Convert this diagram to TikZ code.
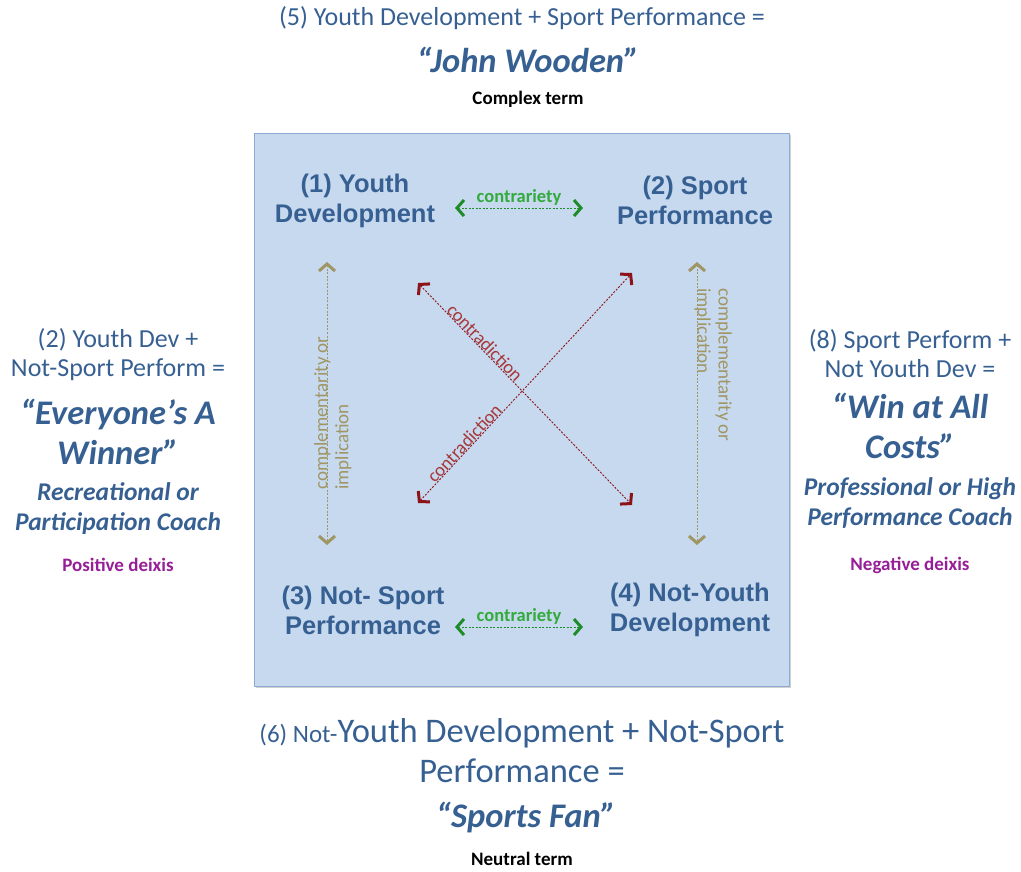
\documentclass[tikz,border=0pt]{standalone}
\usepackage{fontspec}
\setmainfont{Carlito}
\newfontfamily\arialf{Liberation Sans}
\usetikzlibrary{arrows.meta,shadows}
\definecolor{txtblue}{RGB}{55,96,146}
\definecolor{boxfill}{RGB}{199,217,239}
\definecolor{boxline}{RGB}{140,170,210}
\definecolor{cgreen}{RGB}{30,140,40}
\definecolor{lgreen}{RGB}{50,170,60}
\definecolor{cred}{RGB}{140,20,25}
\definecolor{lred}{RGB}{165,55,55}
\definecolor{olive}{RGB}{160,150,100}
\definecolor{deixis}{RGB}{150,30,150}
\begin{document}
\begin{tikzpicture}[x=1pt,y=-1pt,
 term/.style={font=\arialf\bfseries\fontsize{25.5}{30}\selectfont, text=txtblue, align=center, inner sep=0},
 plain/.style={text=txtblue, align=center, inner sep=0, font=\fontsize{26}{29}\selectfont},
 big/.style={text=txtblue, align=center, inner sep=0, font=\bfseries\itshape\fontsize{34.5}{40}\selectfont},
 coach/.style={text=txtblue, align=center, inner sep=0, font=\bfseries\itshape\fontsize{25.5}{30}\selectfont},
 small/.style={align=center, inner sep=0, font=\bfseries\fontsize{19}{22}\selectfont},
 lbl/.style={inner sep=1pt, font=\bfseries\fontsize{18.5}{20}\selectfont},
 barb/.style={>={Straight Barb[length=7pt,width=16pt,line width=3pt]}, <->},
 contr/.style={draw=cgreen, dash pattern=on 2pt off 1.5pt, line width=0.9pt, barb},
 compl/.style={draw=olive, dash pattern=on 2pt off 1.5pt, line width=0.9pt, barb},
 contra/.style={draw=cred, dash pattern=on 2pt off 1.5pt, line width=0.9pt, barb},
 vlbl/.style={text=olive, align=left, inner sep=0, font=\fontsize{19}{21}\selectfont},
]
\useasboundingbox (0,0) rectangle (1021,871);

% square
\fill[black!18] (256,135) rectangle (791,688);
\node[draw=boxline, fill=boxfill, line width=1.2pt, minimum width=535pt, minimum height=553pt, inner sep=0, anchor=north west] (box) at (254,133) {};

% top
\node[plain] (t5) at (522,18) {(5) Youth Development + Sport Performance =};
\node[big] (jw) at (528,60) {“John Wooden”};
\node[small] (cx) at (528,99) {Complex term};

% corner terms
\node[term] (n1) at (355,201) {(1) Youth\\Development};
\node[term] (n2) at (695,200) {(2) Sport\\Performance};
\node[term] (n3) at (363,610) {(3) Not- Sport\\Performance};
\node[term] (n4) at (690,610) {(4) Not-Youth\\Development};

% contrariety
\coordinate (ct1) at (455,208); \coordinate (ct2) at (583,208);
\draw[contr] (ct1) -- node[lbl, text=lgreen, above=1pt] (ctl1) {contrariety} (ct2);
\coordinate (cb1) at (455,627); \coordinate (cb2) at (583,627);
\draw[contr] (cb1) -- node[lbl, text=lgreen, above=1pt] (ctl2) {contrariety} (cb2);

% complementarity
\coordinate (vl1) at (327,262); \coordinate (vl2) at (327,545);
\draw[compl] (vl1) -- (vl2);
\node[vlbl, rotate=90, anchor=north west] (vll) at (314,490) {complementarity or\\implication};
\coordinate (vr1) at (697,262); \coordinate (vr2) at (697,545);
\draw[compl] (vr1) -- (vr2);
\node[vlbl, rotate=-90, anchor=north west] (vrl) at (732,288) {complementarity or\\implication};

% contradiction
\coordinate (d1) at (418,283); \coordinate (d2) at (632,505);
\coordinate (d3) at (418,503); \coordinate (d4) at (632,273);
\draw[contra] (d1) -- node[lbl, text=lred, font=\fontsize{18.5}{20}\selectfont, pos=0.29, sloped, above=-1pt] (cd1) {contradiction} (d2);
\draw[contra] (d3) -- node[lbl, text=lred, font=\fontsize{18.5}{20}\selectfont, pos=0.24, sloped, above=-1pt] (cd2) {contradiction} (d4);

% left
\node[plain] (l1) at (118,355) {(2) Youth Dev +\\Not-Sport Perform =};
\node[big] (l2) at (118,432) {“Everyone’s A\\Winner”};
\node[coach] (l3) at (118,509) {Recreational or\\Participation Coach};
\node[small, text=deixis] (l4) at (118,565) {Positive deixis};

% right
\node[plain] (r1) at (910,354) {(8) Sport Perform +\\Not Youth Dev =};
\node[big] (r2) at (910,426) {“Win at All\\Costs”};
\node[coach] (r3) at (910,503) {Professional or High\\Performance Coach};
\node[small, text=deixis] (r4) at (910,565) {Negative deixis};

% bottom
\node[text=txtblue, align=center, inner sep=0, font=\fontsize{34.5}{40}\selectfont] (b1) at (522,751) {{\fontsize{25}{29}\selectfont(6) Not-}Youth Development + Not-Sport\\Performance =};
\node[big] (b2) at (526,817) {“Sports Fan”};
\node[small] (b3) at (522,859) {Neutral term};
\end{tikzpicture}
\end{document}
